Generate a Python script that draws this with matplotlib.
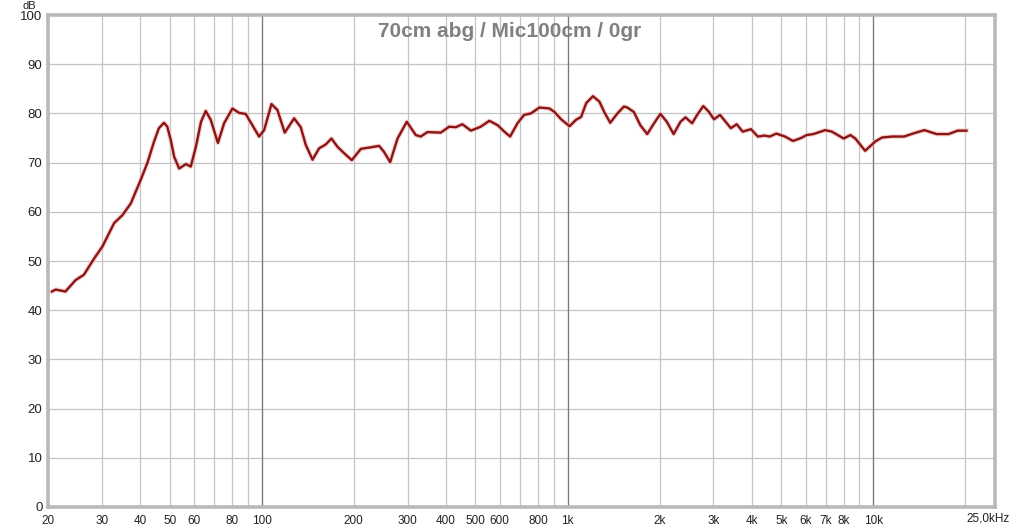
import matplotlib
matplotlib.use("Agg")
import matplotlib.pyplot as plt

# frequency response (Hz, dB)
freq = [20.6, 21.2, 22.8, 24.6, 26.2, 28.3, 30.1, 32.9, 35.0, 37.3, 40.2,
        42.3, 44.4, 46.1, 47.9, 49.1, 50.4, 51.7, 53.7, 56.5, 58.6, 60.9,
        63.3, 65.6, 68.1, 71.9, 75.3, 80.2, 84.4, 88.6, 93.2, 98.0, 101.8,
        107.6, 112.5, 118.9, 127.6, 134.1, 139.3, 146.6, 154, 162, 169, 177,
        186, 197, 211, 227, 242, 251, 263, 278, 298, 319, 331, 348, 385, 410,
        431, 453, 483, 520, 555, 591, 621, 649, 686, 721, 759, 809, 873, 906,
        953, 1015, 1066, 1108, 1151, 1211, 1271, 1318, 1379, 1456, 1529,
        1568, 1647, 1730, 1822, 1918, 2012, 2112, 2223, 2340, 2430, 2555,
        2653, 2779, 2900, 3013, 3152, 3290, 3420, 3575, 3737, 3980, 4190,
        4410, 4580, 4818, 5140, 5461, 5800, 6049, 6365, 6959, 7316, 7998,
        8411, 8733, 9398, 10150, 10674, 11520, 12600, 13780, 14700, 16100,
        17620, 18860, 20160]
level = [43.8, 44.2, 43.8, 46.1, 47.2, 50.5, 52.9, 57.7, 59.3, 61.7, 66.5,
         70.0, 74.2, 77.0, 78.1, 77.3, 74.6, 71.2, 68.8, 69.7, 69.2, 73.2,
         78.3, 80.5, 78.7, 74.0, 78.0, 81.0, 80.1, 79.9, 77.6, 75.3, 76.6,
         81.9, 80.7, 76.1, 79.0, 77.2, 73.6, 70.6, 72.9, 73.7, 74.9, 73.2,
         71.9, 70.5, 72.8, 73.1, 73.4, 72.2, 70.1, 74.9, 78.3, 75.6, 75.3,
         76.2, 76.1, 77.3, 77.2, 77.8, 76.5, 77.3, 78.5, 77.6, 76.3, 75.3,
         78.0, 79.7, 80.0, 81.2, 81.0, 80.3, 78.8, 77.4, 78.7, 79.3, 82.1,
         83.5, 82.4, 80.3, 78.1, 80.0, 81.4, 81.2, 80.3, 77.6, 75.8, 78.0,
         79.9, 78.3, 75.8, 78.3, 79.2, 78.0, 79.7, 81.5, 80.3, 78.8, 79.7,
         78.3, 77.0, 77.8, 76.3, 76.8, 75.3, 75.5, 75.3, 75.9, 75.3, 74.4,
         75.0, 75.6, 75.8, 76.6, 76.3, 74.9, 75.6, 74.9, 72.4, 74.3, 75.1,
         75.3, 75.3, 76.1, 76.6, 75.8, 75.8, 76.5, 76.5]

x_ticks = [20, 30, 40, 50, 60, 80, 100, 200, 300, 400, 500, 600, 800,
           1000, 2000, 3000, 4000, 5000, 6000, 7000, 8000, 10000]
x_labels = ['20', '30', '40', '50', '60', '80', '100', '200', '300', '400',
            '500', '600', '800', '1k', '2k', '3k', '4k', '5k', '6k', '7k',
            '8k', '10k']
x_grid_extra = [70, 90, 700, 900, 9000, 20000]
decades = [100, 1000, 10000]
y_ticks = list(range(0, 101, 10))
title = '70cm abg / Mic100cm / 0gr'

plt.rcParams['font.family'] = ['Liberation Sans', 'DejaVu Sans']

fig = plt.figure(figsize=(10.17, 5.29), dpi=100, facecolor='white')
ax = fig.add_axes([0.0472, 0.0416, 0.9312, 0.93])

ax.set_xscale('log')
ax.set_xlim(20, 25000)
ax.set_ylim(0, 100)

ax.set_xticks(x_ticks)
ax.set_xticklabels(x_labels)
ax.set_xticks(x_grid_extra, minor=True)
ax.set_xticklabels([], minor=True)
ax.set_yticks(y_ticks)
ax.tick_params(axis='both', which='both', length=0, colors='#222222')
ax.tick_params(axis='x', labelsize=8.5, pad=6)
ax.tick_params(axis='y', labelsize=9.5, pad=4)

ax.grid(True, which='both', color='#c4c4c4', linewidth=0.9)
for d in decades:
    ax.axvline(d, color='#7a7a7a', linewidth=0.9, zorder=1)
ax.set_axisbelow(True)

for s in ax.spines.values():
    s.set_color('#b9b9b9')
    s.set_linewidth(2.6)

ax.plot(freq, level, color='#f2b8b8', linewidth=3.4, alpha=0.6, zorder=2,
        solid_joinstyle='round')
ax.plot(freq, level, color='#8b1414', linewidth=1.7, zorder=3,
        solid_joinstyle='round')

ax.text(0.487, 0.985, title, transform=ax.transAxes, ha='center', va='top',
        fontsize=15, fontweight='bold', color='#808080')
fig.text(36 / 1017, 0.999, 'dB', ha='right', va='top', fontsize=8,
         color='#222222')
ax.text(0.993, -0.012, '25,0kHz', transform=ax.transAxes, ha='center',
        va='top', fontsize=8.5, color='#222222')

fig.savefig('out.png', dpi=100, facecolor='white')
